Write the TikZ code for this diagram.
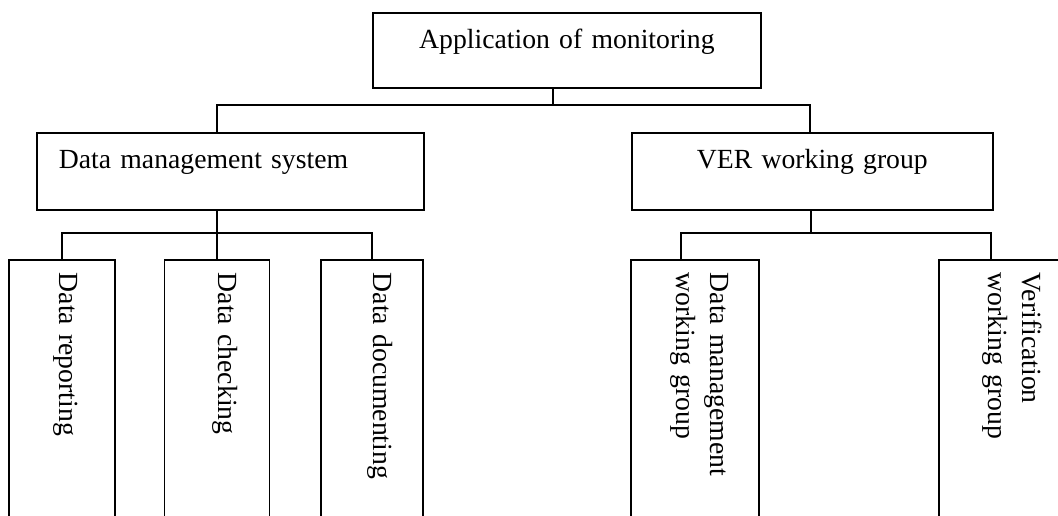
\documentclass[tikz,border=0pt]{standalone}
\usepackage{fontspec}
\setmainfont{Liberation Serif}

\begin{document}
\begin{tikzpicture}[x=1pt,y=1pt,line width=1.8pt,
  font=\fontsize{27.7pt}{34pt}\selectfont,
  unit/.style={draw,anchor=north west,inner xsep=0pt,inner ysep=0pt,text height=36pt,text depth=41pt},
  leaf/.style={draw,rotate=-90,anchor=west,inner xsep=13pt,inner ysep=0pt,text width=245pt,align=left}]

\useasboundingbox (0,0) rectangle (1058,-515);

\node[unit,text depth=39pt,text width=388pt,align=center] (app) at (372,-12) {Application of monitoring};
\node[unit,inner xsep=22pt,text width=343pt,align=left] (dms) at (36,-132) {Data management system};
\node[unit,text width=361pt,align=center] (ver) at (631,-132) {VER working group};

\node[leaf,text height=56pt,text depth=50pt] (rep) at (62,-259) {Data reporting};
\node[leaf,text height=51pt,text depth=54pt] (chk) at (217,-259) {Data checking};
\node[leaf,text height=50pt,text depth=52pt] (doc) at (372,-259) {Data documenting};
\node[leaf,text height=49pt,text depth=79pt] (dmw) at (695,-259) {Data management\\working group};
\node[leaf,text height=45pt,text depth=83pt] (vwg) at (1003,-259) {Verification\\working group};

\coordinate (busA) at (553,-105);
\coordinate (busAl) at (217,-105);
\coordinate (busAr) at (810,-105);
\draw (busA |- app.south) -- (busA);
\draw (busAl |- dms.north) -- (busAl) -- (busAr) -- (busAr |- ver.north);

\coordinate (busB) at (217,-233);
\draw (busB |- dms.south) -- (busB);
\draw (rep.west) |- (doc.west |- busB) -- (doc.west);
\draw (chk.west) -- (chk.west |- busB);

\coordinate (busC) at (811,-233);
\coordinate (busCl) at (681,-233);
\coordinate (busCr) at (991,-233);
\draw (busC |- ver.south) -- (busC);
\draw (busCl |- dmw.west) -- (busCl) -- (busCr) -- (busCr |- vwg.west);

\end{tikzpicture}
\end{document}
